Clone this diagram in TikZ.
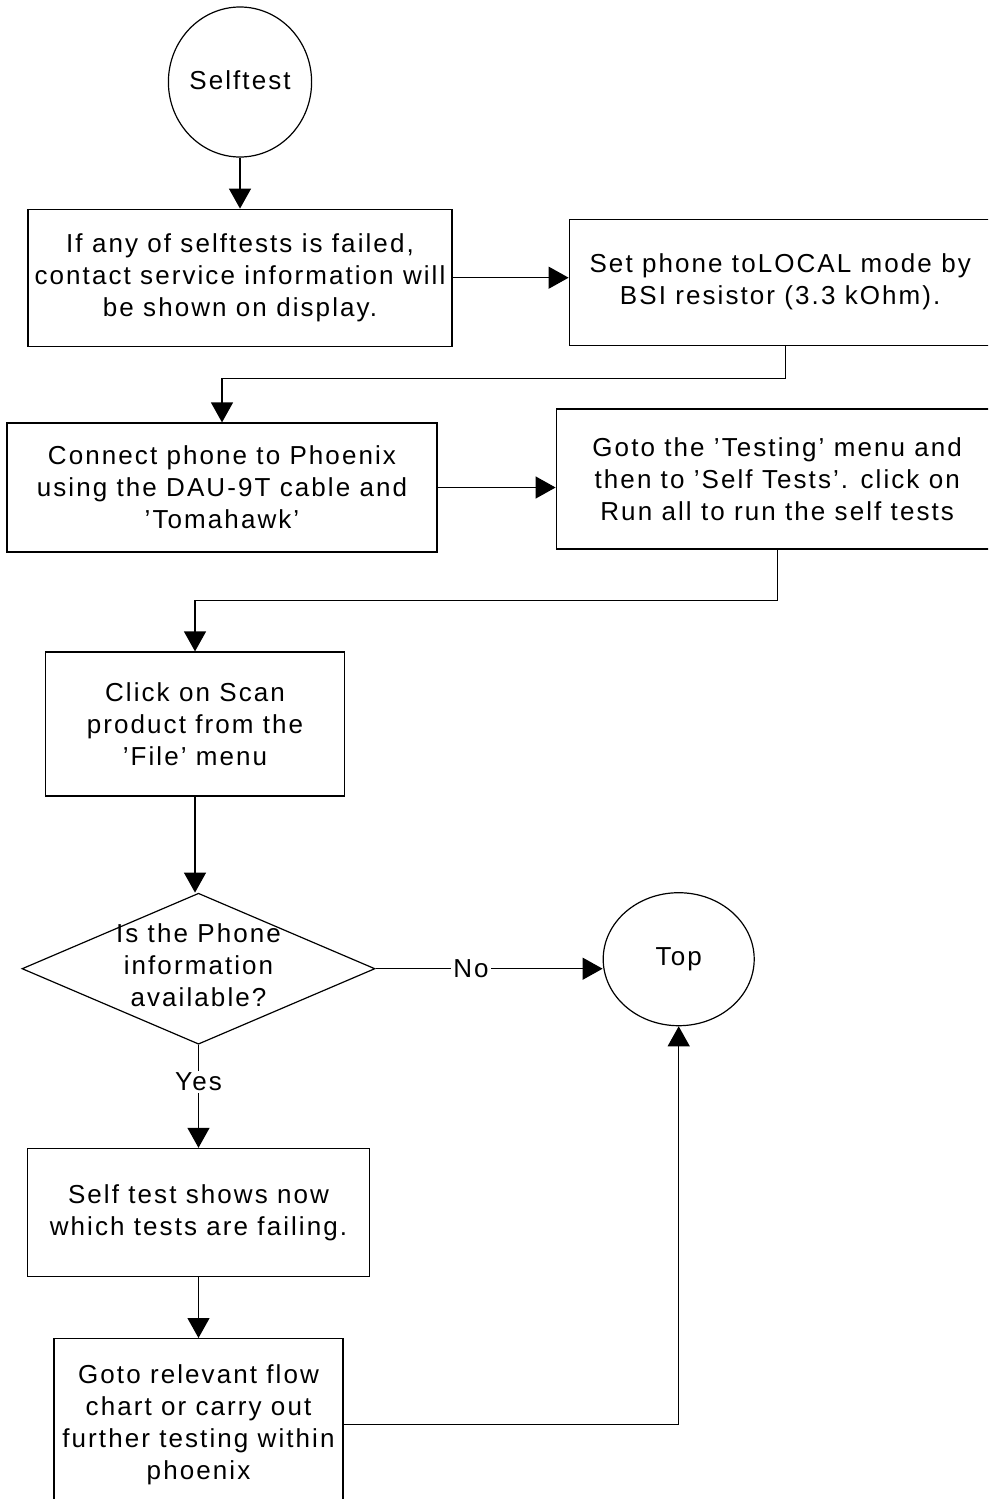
\documentclass[tikz,border=0pt]{standalone}
\usepackage{fontspec}
\setmainfont{Liberation Sans}[LetterSpace=8]
\usetikzlibrary{positioning, arrows.meta, shapes.geometric}

\begin{document}
\begin{tikzpicture}[
  x=1pt, y=-1pt,
  font=\fontsize{26}{32}\selectfont,
  line width=1.2pt,
  box/.style={draw, align=center, inner sep=0pt},
  term/.style={draw, ellipse, align=center, inner sep=0pt},
  decision/.style={draw, diamond, aspect=2.34, inner sep=0pt, minimum width=353pt,
              minimum height=151pt},
  arr/.style={-{Triangle[length=20pt, width=22pt]}},
  lbl/.style={fill=white, inner sep=2pt}
 ]
\useasboundingbox (0,0) rectangle (988,1499);
\clip (0,0) rectangle (988,1499);
\node[term, minimum width=140pt, minimum height=150pt] (selftest) at (240,82) {\raisebox{4pt}{Selftest}};
\node[box, minimum width=424pt, minimum height=137pt, below=51pt of selftest] (fail)
  {If any of selftests is failed,\\contact service information will\\be shown on display.};
\node[box, minimum width=422pt, minimum height=126pt, right=116pt of fail, yshift=-4.5pt] (local)
  {Set phone toLOCAL mode by\\BSI resistor (3.3 kOhm).};
\node[box, minimum width=430pt, minimum height=129pt] (connect) at (222,487.5)
  {Connect phone to Phoenix\\using the DAU-9T cable and\\'Tomahawk'};
\node[box, minimum width=442pt, minimum height=140pt, right=118pt of connect, yshift=8.5pt] (menu)
  {Goto the 'Testing' menu and\\then to 'Self Tests'. click on\\Run all to run the self tests};
\node[box, minimum width=299pt, minimum height=144pt] (scan) at (195,724)
  {Click on Scan\\product from the\\'File' menu};
\node[decision, below=96pt of scan, xshift=3.5pt] (info)
  {\smash{\raisebox{-6pt}{\begin{tabular}{@{}c@{}}Is the Phone\\information\\available?\end{tabular}}}};
\node[term, minimum width=151pt, minimum height=133pt, right=227pt of info, yshift=9.5pt] (top) {Top};
\node[box, minimum width=342pt, minimum height=128pt, below=103pt of info] (shows)
  {Self test shows now\\which tests are failing.};
\node[box, minimum width=289pt, minimum height=172pt, below=61pt of shows] (goto)
  {Goto relevant flow\\chart or carry out\\further testing within\\phoenix};
\draw[arr] (selftest) -- (selftest.south |- fail.north);
\draw[arr] (fail.east) -- (fail.east -| local.west);
\draw[arr] ([xshift=5pt]local.south) -- ++(0,33) -| (connect.north);
\draw[arr] (connect.east) -- (connect.east -| menu.west);
\draw[arr] (menu.south) -- ++(0,51) -| (scan.north);
\draw[arr] (scan) -- (scan.south |- info.north);
\draw[arr] (info.east) -- node[lbl, pos=0.42] {No} (info.east -| top.west);
\draw[arr] (info.south) -- node[lbl, pos=0.36] {Yes} (shows.north);
\draw[arr] (shows) -- (goto.north);
\draw[arr] (goto.east) -| (top.south);
\end{tikzpicture}
\end{document}
